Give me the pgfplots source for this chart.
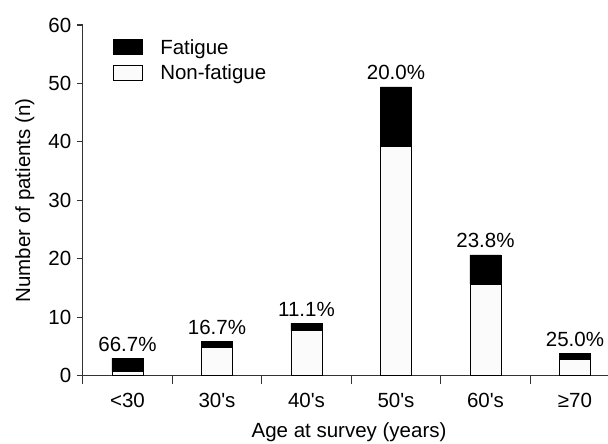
\documentclass[border=0pt]{standalone}
\usepackage{pgfplots}
\pgfplotsset{compat=1.18}
\usepackage{fontspec}
\setmainfont{Liberation Sans}
\definecolor{axgray}{HTML}{333333}
\definecolor{nfill}{HTML}{FBFBFB}
\newcommand{\bigf}{\fontsize{20.5}{24}\selectfont}
\begin{document}
\begin{tikzpicture}
\path[use as bounding box] (0,0) rectangle (608pt,444pt);
\begin{axis}[
  at={(82.75pt,68.3pt)}, anchor=south west,
  scale only axis, width=525.25pt, height=350.7pt,
  xmin=-0.5, xmax=5.369, ymin=0, ymax=60,
  ybar stacked, bar width=31pt,
  axis x line*=bottom, axis y line*=left,
  axis line style={axgray, line width=1.1pt},
  font=\bigf,
  ticklabel style={font=\bigf},
  /pgf/number format/assume math mode=true,
  xtick={0,1,2,3,4,5},
  xticklabels={<30, 30\textquotesingle s, 40\textquotesingle s, 50\textquotesingle s, 60\textquotesingle s, ≥70},
  minor xtick={-0.5,0.5,1.5,2.5,3.5,4.5},
  every major x tick/.append style={draw=none},
  ytick={0,10,...,60},
  tick align=outside,
  major tick length=6pt, minor tick length=8pt,
  tick style={axgray, line width=1.1pt},
  xticklabel style={anchor=base, yshift=-25.5pt},
  yticklabel style={xshift=-2pt},
  xlabel={Age at survey (years)},
  ylabel={Number of patients (n)},
  xlabel style={at={(axis description cs:0.507,0)}, anchor=base, yshift=-62.3pt, font=\bigf},
  ylabel style={at={(axis description cs:-0.1,0.5)}, anchor=base, font=\bigf},
  legend style={at={(axis description cs:0.058,0.9658)}, anchor=north west, draw=none, fill=none,
    font=\bigf, row sep=5pt, inner sep=0pt},
  legend cell align=left,
  reverse legend,
  legend image code/.code={\draw[#1, line width=0.8pt] (0pt,-7.5pt) rectangle (29pt,7.5pt); \path (44pt,0pt);},
  clip=false,
]
\addplot[fill=nfill, draw=black, line width=0.9pt] coordinates {
  (0,0.7) (1,4.75) (2,7.7) (3,39.25) (4,15.65) (5,2.83)
};
\addlegendentry{Non-fatigue}
\addplot[fill=black, draw=black, line width=0.9pt] coordinates {
  (0,2.3) (1,1.15) (2,1.25) (3,10.15) (4,5.0) (5,0.95)
};
\addlegendentry{Fatigue}
\node[anchor=base, yshift=7pt, font=\bigf] at (axis cs:0,3.0) {66.7\%};
\node[anchor=base, yshift=7pt, font=\bigf] at (axis cs:1,5.9) {16.7\%};
\node[anchor=base, yshift=7pt, font=\bigf] at (axis cs:2,8.95) {11.1\%};
\node[anchor=base, yshift=7pt, font=\bigf] at (axis cs:3,49.4) {20.0\%};
\node[anchor=base, yshift=7pt, font=\bigf] at (axis cs:4,20.65) {23.8\%};
\node[anchor=base, yshift=7pt, font=\bigf] at (axis cs:5,3.78) {25.0\%};
\end{axis}
\end{tikzpicture}
\end{document}
